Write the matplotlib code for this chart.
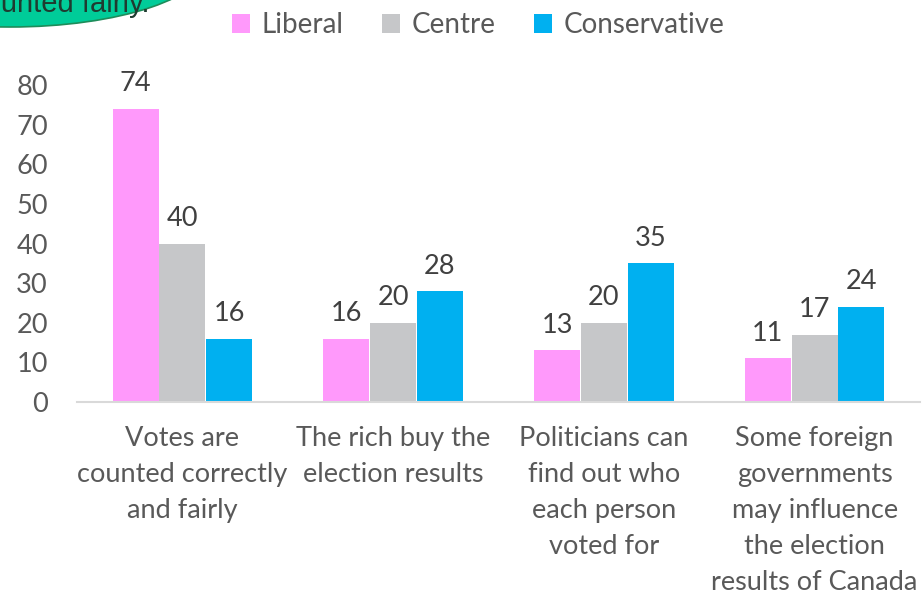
import matplotlib
matplotlib.use("Agg")
import matplotlib.pyplot as plt
from matplotlib.patches import Ellipse
import numpy as np

categories = ["Votes are\ncounted correctly\nand fairly",
              "The rich buy the\nelection results",
              "Politicians can\nfind out who\neach person\nvoted for",
              "Some foreign\ngovernments\nmay influence\nthe election\nresults of Canada"]
series_names = ["Liberal", "Centre", "Conservative"]
liberal = [74, 16, 13, 11]
centre = [40, 20, 20, 17]
conservative = [16, 28, 35, 24]
yticks = [0, 10, 20, 30, 40, 50, 60, 70, 80]

colors = ["#FF99FB", "#C6C7C9", "#00B0F0"]
FONT = "Lato"
TXT = "#595959"
plt.rcParams['font.family'] = [FONT, 'DejaVu Sans']

fig = plt.figure(figsize=(9.24, 5.98), dpi=100)
ax = fig.add_axes([77/924, 1-402/598, (920-77)/924, (402-85)/598])

x = np.arange(len(categories))
w = 0.222
series = [liberal, centre, conservative]
for i, (name, vals, c) in enumerate(zip(series_names, series, colors)):
    bars = ax.bar(x + (i-1)*w, vals, w*0.98, color=c, label=name, zorder=2)
    for b, v in zip(bars, vals):
        ax.annotate(str(v), (b.get_x()+b.get_width()/2, b.get_height()),
                    xytext=(0, 9), textcoords='offset points', ha='center', va='bottom',
                    fontsize=19.5, color="#404040")

ax.set_xlim(-0.5, len(categories)-0.5)
ax.set_ylim(0, 80)
ax.set_yticks(yticks)
ax.set_yticklabels([str(t) for t in yticks])
ax.set_xticks(x)
ax.set_xticklabels(categories, linespacing=1.56)
ax.tick_params(axis='y', length=0, pad=21, labelsize=19.5, labelcolor=TXT)
ax.tick_params(axis='x', length=0, pad=17, labelsize=19.5, labelcolor=TXT)
for s in ['top', 'right', 'left']:
    ax.spines[s].set_visible(False)
ax.spines['bottom'].set_color("#D9D9D9")
ax.spines['bottom'].set_linewidth(1.5)

leg = fig.legend(loc='center', bbox_to_anchor=(478/924, 1-25/598), ncol=3, frameon=False,
                 fontsize=20, handlelength=0.65, handleheight=0.65, handletextpad=0.4,
                 columnspacing=1.4)
for t in leg.get_texts():
    t.set_color(TXT)

# green callout (partially visible)
ell = Ellipse((0.10, 6.38), 3.98, 1.34, transform=fig.dpi_scale_trans,
              facecolor="#00CC99", edgecolor="#1E8C5A", linewidth=1.2, zorder=0)
fig.add_artist(ell)
fig.text(1.50, (598-12)/100, "counted fairly.", transform=fig.dpi_scale_trans,
         ha='right', va='baseline', fontsize=21, color="#1F3B30",
         family=['Liberation Sans', 'DejaVu Sans'])

fig.savefig("out.png", dpi=100)
